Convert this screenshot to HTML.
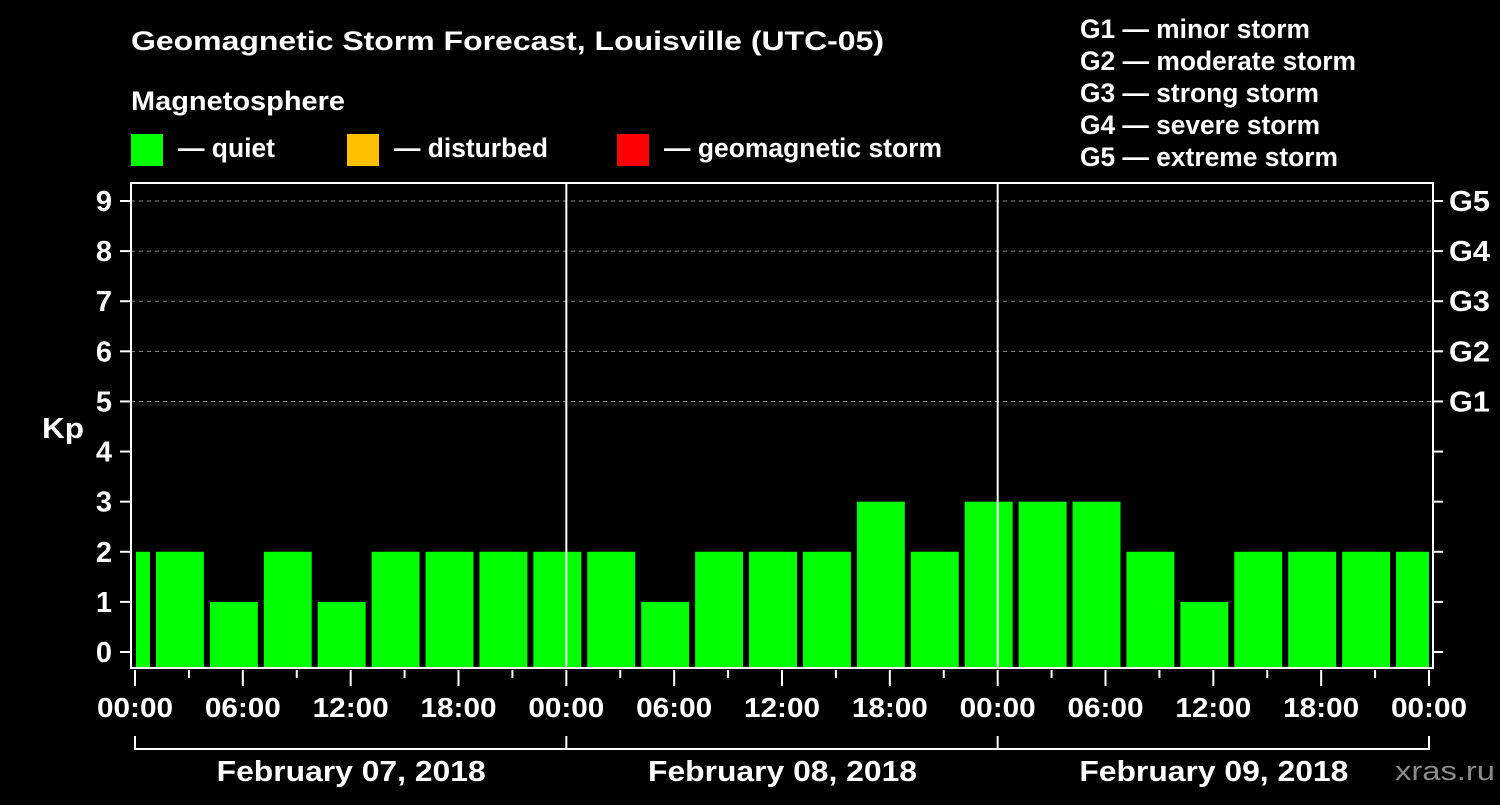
<!DOCTYPE html>
<html><head><meta charset="utf-8"><style>
body{margin:0;background:#000;width:1500px;height:800px;overflow:hidden}
svg text{font-family:"Liberation Sans",sans-serif;font-weight:bold;fill:#fff}
</style></head><body>
<svg id="chart" width="1500" height="800" xmlns="http://www.w3.org/2000/svg">
<rect width="1500" height="800" fill="#000"/>
<text x="131" y="50" font-size="27" textLength="753" lengthAdjust="spacingAndGlyphs">Geomagnetic Storm Forecast, Louisville (UTC-05)</text>
<text x="131" y="110" font-size="27" textLength="214" lengthAdjust="spacingAndGlyphs">Magnetosphere</text>
<g><rect x="131" y="134" width="32" height="32" fill="#00ff00"/><text x="178" y="157" font-size="27" textLength="97" lengthAdjust="spacingAndGlyphs">— quiet</text></g>
<g><rect x="347" y="134" width="32" height="32" fill="#ffc000"/><text x="394" y="157" font-size="27" textLength="154" lengthAdjust="spacingAndGlyphs">— disturbed</text></g>
<g><rect x="617" y="134" width="32" height="32" fill="#ff0000"/><text x="664" y="157" font-size="27" textLength="278" lengthAdjust="spacingAndGlyphs">— geomagnetic storm</text></g>
<g font-size="27">
<text x="1080" y="38" textLength="230" lengthAdjust="spacingAndGlyphs">G1 — minor storm</text>
<text x="1080" y="70" textLength="276" lengthAdjust="spacingAndGlyphs">G2 — moderate storm</text>
<text x="1080" y="102" textLength="239" lengthAdjust="spacingAndGlyphs">G3 — strong storm</text>
<text x="1080" y="134" textLength="240" lengthAdjust="spacingAndGlyphs">G4 — severe storm</text>
<text x="1080" y="166" textLength="258" lengthAdjust="spacingAndGlyphs">G5 — extreme storm</text>
</g>
<text x="42" y="438" font-size="29" textLength="42" lengthAdjust="spacingAndGlyphs">Kp</text>
<g id="grid"></g><g id="bars"></g><g id="axes"></g>
<text x="1395" y="780" font-size="27" style="fill:#8a8a8a;font-weight:normal" textLength="100" lengthAdjust="spacingAndGlyphs">xras.ru</text>
</svg>
<script>
const kpStarts = [-2,1,4,7,10,13,16,19,22,25,28,31,34,37,40,43,46,49,52,55,58,61,64,67,70];
const kpValues = [2,2,1,2,1,2,2,2,2,2,1,2,2,2,3,2,3,3,3,2,1,2,2,2,2];
const yTicks = [0,1,2,3,4,5,6,7,8,9];
const gLabels = ["G1","G2","G3","G4","G5"];
const hourLabels = ["00:00","06:00","12:00","18:00","00:00","06:00","12:00","18:00","00:00","06:00","12:00","18:00","00:00"];
const dayLabels = ["February 07, 2018","February 08, 2018","February 09, 2018"];
const NS="http://www.w3.org/2000/svg";
const L=131,R=1433,T=183,B=668;
const X=h=>135+h*(1294/72);
const Y=v=>652-v*50.11;
function mk(tag,attrs,parent,txt){const e=document.createElementNS(NS,tag);for(const k in attrs)e.setAttribute(k,attrs[k]);if(txt!=null)e.textContent=txt;parent.appendChild(e);return e;}
const grid=document.getElementById('grid'),bars=document.getElementById('bars'),axes=document.getElementById('axes');
yTicks.forEach(v=>{
  if(v>=5){const g=mk('line',{x1:L,x2:R,y1:Y(v),y2:Y(v),stroke:'#888','stroke-dasharray':'4,4','stroke-width':1},grid);
  
  }
  const t=mk('line',{x1:120,x2:L,y1:Y(v),y2:Y(v),stroke:'#fff','stroke-width':2},axes);
  
  
  const tx=mk('text',{x:112,y:Y(v)+10,'font-size':29,'text-anchor':'end'},axes,String(v));
  
  
  const rt=mk('line',{x1:R,x2:1443,y1:Y(v),y2:Y(v),stroke:'#fff','stroke-width':2},axes);
  
  
  if(v>=5){const gl=mk('text',{x:1449,y:Y(v)+10,'font-size':29,textLength:41,lengthAdjust:'spacingAndGlyphs'},axes,gLabels[v-5]);
  
  }
});
kpStarts.forEach((s,i)=>{
  let x1=Math.max(X(s)+3,X(0)+1),x2=Math.min(X(s+3)-3,X(72));
  const v=kpValues[i];
  const c=v>=5?'#ff0000':(v>=4?'#ffc000':'#00ff00');
  const r=mk('rect',{x:x1,y:Y(v),width:x2-x1,height:B-Y(v),fill:c},bars);
  
  
});
[24,48].forEach(h=>{const l=mk('line',{x1:X(h),x2:X(h),y1:T,y2:B,stroke:'#fff','stroke-width':2},axes);
  
  });
const fr=mk('rect',{x:L,y:T,width:R-L,height:B-T,fill:'none',stroke:'#fff','stroke-width':2},axes);


for(let h=0;h<=72;h+=3){const major=h%6===0;
  const t=mk('line',{x1:X(h),x2:X(h),y1:B+2,y2:major?B+18:B+10,stroke:'#fff','stroke-width':2},axes);
  
  }
hourLabels.forEach((s,i)=>{const t=mk('text',{x:X(i*6)-38,y:717,'font-size':28,textLength:76,lengthAdjust:'spacingAndGlyphs'},axes,s);
  
  });
const br=mk('path',{d:`M${X(0)},736 V749 H${X(72)} V736 M${X(24)},736 V749 M${X(48)},736 V749`,stroke:'#fff','stroke-width':2,fill:'none'},axes);


dayLabels.forEach((s,i)=>{const t=mk('text',{x:X(i*24+12)-134,y:781,'font-size':29,textLength:269,lengthAdjust:'spacingAndGlyphs'},axes,s);
  
  });
</script>
</body></html>
